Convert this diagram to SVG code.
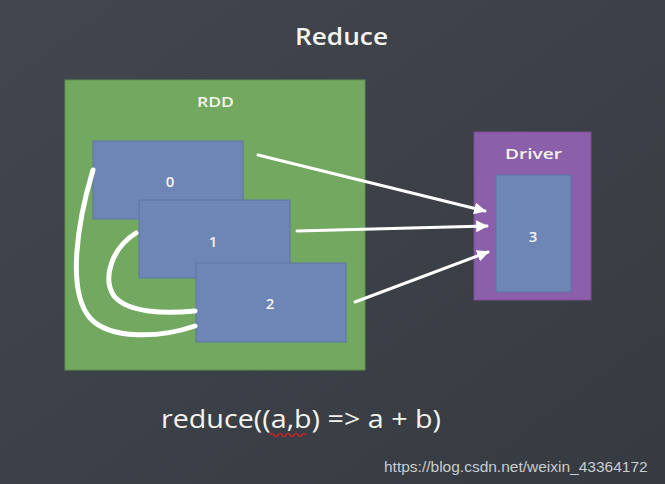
<svg xmlns="http://www.w3.org/2000/svg" width="665" height="484" viewBox="0 0 665 484">
<style>
.t{font-family:"Open Sans","DejaVu Sans",sans-serif;fill:#f4f4ef;font-weight:600;}
.f{font-weight:400;}
.blk{fill:#6e86b6;stroke:#5d74a3;stroke-width:1;}
.chalk{fill:none;stroke:#ffffff;stroke-linecap:round;}
</style>
<defs>
<marker id="ah" viewBox="0 0 10 10" refX="9" refY="5" markerWidth="4" markerHeight="4" orient="auto" markerUnits="strokeWidth">
<path d="M0,0 L10,5 L0,10 z" fill="#ffffff"/>
</marker>
<linearGradient id="bg" x1="0" y1="0" x2="1" y2="1">
<stop offset="0" stop-color="#42464e"/>
<stop offset="1" stop-color="#363a41"/>
</linearGradient>
</defs>
<rect width="665" height="484" fill="url(#bg)"/>
<text class="t" x="295" y="45" font-size="23" textLength="93" lengthAdjust="spacingAndGlyphs">Reduce</text>
<g id="rdd">
<rect x="65" y="80" width="300" height="290" fill="#72a85f" stroke="#5f8f4f" stroke-width="1"/>
<text class="t" x="197" y="107" font-size="15" textLength="37" lengthAdjust="spacingAndGlyphs">RDD</text>
</g>
<g id="p0">
<rect class="blk" x="93" y="141" width="150" height="78"/>
<text class="t" x="170" y="187" font-size="15" text-anchor="middle">0</text>
</g>
<g id="p1">
<rect class="blk" x="139" y="200" width="151" height="78"/>
<text class="t" x="213" y="247" font-size="15" text-anchor="middle">1</text>
</g>
<g id="p2">
<rect class="blk" x="196" y="263" width="150" height="79"/>
<text class="t" x="270" y="309" font-size="15" text-anchor="middle">2</text>
</g>
<g id="driver">
<rect x="474" y="132" width="117" height="168" fill="#8b5fa9" stroke="#7a4f98" stroke-width="1"/>
<text class="t" x="505" y="159" font-size="15" textLength="57" lengthAdjust="spacingAndGlyphs">Driver</text>
<rect class="blk" x="496" y="175" width="75" height="117"/>
<text class="t" x="533" y="242" font-size="15" text-anchor="middle">3</text>
</g>
<g id="connectors">
<path class="chalk" d="M258,155 L485,211" stroke-width="3" marker-end="url(#ah)"/>
<path class="chalk" d="M297,231 L487,226" stroke-width="3" marker-end="url(#ah)"/>
<path class="chalk" d="M355,302 L488,252" stroke-width="3" marker-end="url(#ah)"/>
<path class="chalk" d="M93,170 C78,220 66,290 90,318 C110,340 160,338 195,326" stroke-width="5"/>
<path class="chalk" d="M136,233 C112,248 102,278 114,296 C128,313 165,314 195,311" stroke-width="5"/>
</g>
<text class="t f" x="161" y="428" font-size="26" textLength="280" lengthAdjust="spacingAndGlyphs">reduce((a,b) =&gt; a + b)</text>
<path d="M270,435 q2,-3 4,0 q2,3 4,0 q2,-3 4,0 q2,3 4,0 q2,-3 4,0 q2,3 4,0 q2,-3 4,0 q2,3 4,0 q2,-3 4,0" fill="none" stroke="#c8252b" stroke-width="1.5"/>
<text x="384" y="472" font-family="Liberation Sans, Arial, sans-serif" font-size="15.5" fill="#c9ccd0">https://blog.csdn.net/weixin_43364172</text>
</svg>
